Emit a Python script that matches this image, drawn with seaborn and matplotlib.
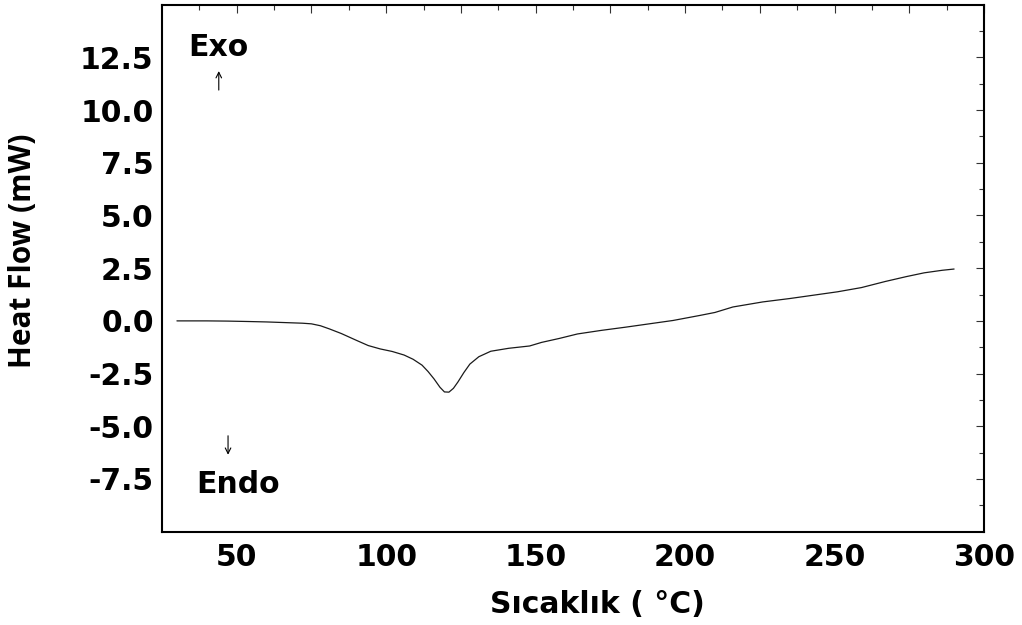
import numpy as np
import matplotlib
matplotlib.use('Agg')
import matplotlib.pyplot as plt
import seaborn as sns
from matplotlib.ticker import FixedLocator, FuncFormatter

# DSC curve
temp = [30, 40, 47, 54, 60, 66, 72, 75, 78, 81, 85, 90, 94, 98, 102, 106, 109,
        112, 114, 116, 118, 119.5, 121, 122.5, 124, 126, 128, 131, 135, 141, 148,
        152, 158, 164, 172, 180, 188, 196, 205, 210, 216, 226, 235, 243, 251,
        259, 267, 274, 280, 286, 290]
heat = [0.0, 0.0, -0.01, -0.03, -0.05, -0.08, -0.11, -0.14, -0.23, -0.38, -0.60,
        -0.92, -1.17, -1.33, -1.45, -1.62, -1.82, -2.10, -2.40, -2.75, -3.15,
        -3.37, -3.38, -3.20, -2.90, -2.45, -2.05, -1.70, -1.44, -1.30, -1.19,
        -1.02, -0.83, -0.62, -0.45, -0.30, -0.14, 0.02, 0.26, 0.40, 0.66, 0.90,
        1.06, 1.22, 1.38, 1.58, 1.87, 2.10, 2.28, 2.40, 2.46]

x_major = [50, 75, 100, 125, 150, 175, 200, 225, 250, 275, 300]
x_minor = [37.5, 62.5, 87.5, 112.5, 137.5, 162.5, 187.5, 212.5, 237.5, 262.5, 287.5]
y_major = [-7.5, -5.0, -2.5, 0.0, 2.5, 5.0, 7.5, 10.0, 12.5]
y_minor = [-8.75, -6.25, -3.75, -1.25, 1.25, 3.75, 6.25, 8.75, 11.25, 13.75]

sns.set_style('white')
plt.rcParams['font.family'] = ['DejaVu Sans']
plt.rcParams['text.color'] = 'black'
plt.rcParams['axes.labelcolor'] = 'black'
plt.rcParams['xtick.color'] = 'black'
plt.rcParams['ytick.color'] = 'black'

fig = plt.figure(figsize=(10.22, 6.25), dpi=100)
ax = fig.add_axes([0.1585, 0.1493, 0.8043, 0.8432])

sns.lineplot(x=temp, y=heat, ax=ax, color='#1a1a1a', linewidth=0.9)

ax.set_xlim(25, 300)
ax.set_ylim(-10, 15)

ax.xaxis.set_major_locator(FixedLocator(x_major))
ax.xaxis.set_minor_locator(FixedLocator(x_minor))
ax.yaxis.set_major_locator(FixedLocator(y_major))
ax.yaxis.set_minor_locator(FixedLocator(y_minor))
ax.xaxis.set_major_formatter(FuncFormatter(lambda v, p: f'{int(v)}' if v % 50 == 0 else ''))
ax.yaxis.set_major_formatter(FuncFormatter(lambda v, p: f'{v:.1f}'))

ax.tick_params(which='both', direction='in', top=True, right=True,
               color='#333333', labelcolor='black')
ax.tick_params(which='major', length=6, width=0.8)
ax.tick_params(which='minor', length=3.5, width=0.8)
ax.tick_params(axis='x', which='major', pad=8)
ax.tick_params(axis='y', which='major', pad=6)
for lab in ax.get_xticklabels() + ax.get_yticklabels():
    lab.set_fontsize(21.5)
    lab.set_fontweight('bold')

for sp in ax.spines.values():
    sp.set_visible(True)
    sp.set_color('black')
    sp.set_linewidth(1.5)

fig.text(0.585, 0.0192, 'Sıcaklık ( °C)', ha='center', va='baseline',
         fontsize=21.5, fontweight='bold', color='black')
fig.text(0.0225, 0.5984, 'Heat Flow (mW)', ha='center', va='center',
         rotation=90, fontsize=21.5, fontweight='bold', color='black',
         family=['Open Sans', 'DejaVu Sans'])

ax.text(43.7, 12.56, 'Exo', ha='center', va='baseline', fontsize=21.5,
        fontweight='bold', color='black')
ax.text(50.3, -8.17, 'Endo', ha='center', va='baseline', fontsize=21.5,
        fontweight='bold', color='black')
ax.annotate('', xy=(44, 11.85), xytext=(44, 10.95),
            arrowprops=dict(arrowstyle='->', lw=0.8, color='black',
                            shrinkA=0, shrinkB=0, mutation_scale=10))
ax.annotate('', xy=(47.1, -6.35), xytext=(47.1, -5.45),
            arrowprops=dict(arrowstyle='->', lw=0.8, color='black',
                            shrinkA=0, shrinkB=0, mutation_scale=10))

fig.savefig('out.png', dpi=100)
